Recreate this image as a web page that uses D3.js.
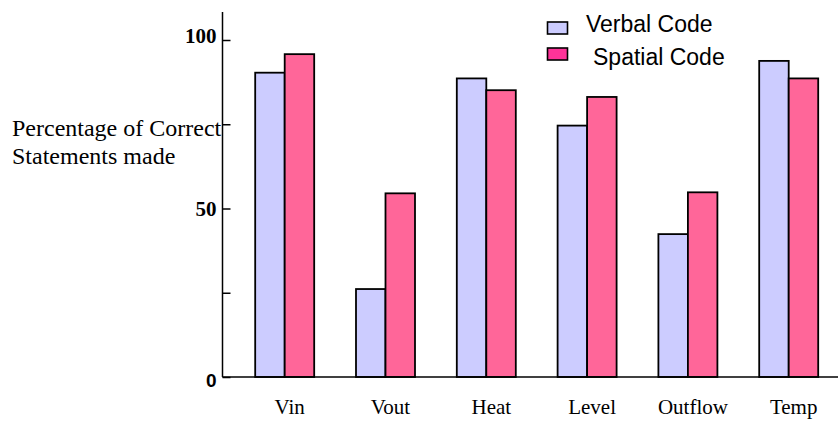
<!DOCTYPE html>
<html><head><meta charset="utf-8">
<script src="https://cdn.jsdelivr.net/npm/d3@7"></script>
<style>body{margin:0;background:#fff}svg{display:block}</style>
</head><body>
<svg id="chart" width="838" height="421"></svg>
<script>
const categories = ["Vin","Vout","Heat","Level","Outflow","Temp"];
const seriesNames = ["Verbal Code","Spatial Code"];
const verbal = [90.3, 26.1, 88.6, 74.6, 42.4, 93.8];
const spatial = [95.8, 54.5, 85.1, 83.1, 54.8, 88.6];
const yTicks = [0, 25, 50, 75, 100];
const yTickLabels = {0:"0", 50:"50", 100:"100"};
const yLabelLines = ["Percentage of Correct","Statements made"];

const svg = d3.select("#chart");
const x0 = d3.scaleBand().domain(categories).range([234.3, 839.1]).paddingInner(0.4147).paddingOuter(0.2073);
const x1 = d3.scaleBand().domain(seriesNames).range([0, x0.bandwidth()]);
const y = d3.scaleLinear().domain([0, 100]).range([377, 40]);
const fills = {"Verbal Code":"#CCCCFF","Spatial Code":"#FF6699"};
const legendFills = {"Verbal Code":"#CCCCFF","Spatial Code":"#FF3399"};
const axisX = 222.5;

// bars
const rows = categories.map((c,i)=>({cat:c, vals:[{s:"Verbal Code",v:verbal[i]},{s:"Spatial Code",v:spatial[i]}]}));
const g = svg.append("g").selectAll("g").data(rows).join("g")
  .attr("transform", d=>`translate(${x0(d.cat)},0)`);
g.selectAll("rect").data(d=>d.vals).join("rect")
  .attr("x", d=>x1(d.s)).attr("width", x1.bandwidth())
  .attr("y", d=>y(d.v)).attr("height", d=>y(0)-y(d.v))
  .attr("fill", d=>fills[d.s]).attr("stroke","#000").attr("stroke-width",1.8);

// x axis line
svg.append("line").attr("x1",axisX).attr("x2",838).attr("y1",y(0)).attr("y2",y(0))
  .attr("stroke","#000").attr("stroke-width",1.5);
// y axis line
svg.append("line").attr("x1",axisX).attr("x2",axisX).attr("y1",12).attr("y2",y(0))
  .attr("stroke","#000").attr("stroke-width",1.5);

// y axis ticks
const yAxis = d3.axisLeft(y).tickValues(yTicks).tickSize(-8).tickPadding(6)
  .tickFormat(d=>yTickLabels[d] || "");
const ya = svg.append("g").attr("transform",`translate(${axisX},0)`).call(yAxis);
ya.select(".domain").remove();
ya.selectAll(".tick line").attr("stroke","#000").attr("stroke-width",1.5);
ya.selectAll(".tick text").attr("font-family","'Liberation Serif', 'Times New Roman', serif")
  .attr("font-weight","bold").attr("font-size",21).attr("fill","#000");
ya.selectAll(".tick text").filter(d=>d===0).attr("font-family","'Liberation Sans', Arial, sans-serif").attr("font-size",19).attr("dy","0.5em");
ya.selectAll(".tick text").filter(d=>d===100).attr("dy","0.1em");

// x labels
const xa = svg.append("g").attr("transform",`translate(0,${y(0)})`)
  .call(d3.axisBottom(x0).tickSize(0).tickPadding(0).tickFormat(d=>d));
xa.select(".domain").remove();
xa.selectAll(".tick text").attr("font-family","'Liberation Serif', 'Times New Roman', serif")
  .attr("font-size",21).attr("fill","#000").attr("dy",null).attr("y",37).attr("dx",5);

// y label
svg.append("text").attr("font-family","'Liberation Serif', 'Times New Roman', serif").attr("font-size",24).attr("fill","#000")
  .selectAll("tspan").data(yLabelLines).join("tspan")
  .attr("x",12).attr("y",(d,i)=>136+i*28).text(d=>d);

// legend
const leg = svg.append("g");
seriesNames.forEach((s,i)=>{
  leg.append("rect").attr("x",547.5).attr("y",22+i*26).attr("width",20).attr("height",12)
    .attr("fill",legendFills[s]).attr("stroke","#000").attr("stroke-width",1.6);
  leg.append("text").attr("x", i===0?586:593).attr("y",32+i*33)
    .attr("font-family","'Liberation Sans', Arial, sans-serif").attr("font-size",23).attr("fill","#000").text(s);
});
</script>
</body></html>
